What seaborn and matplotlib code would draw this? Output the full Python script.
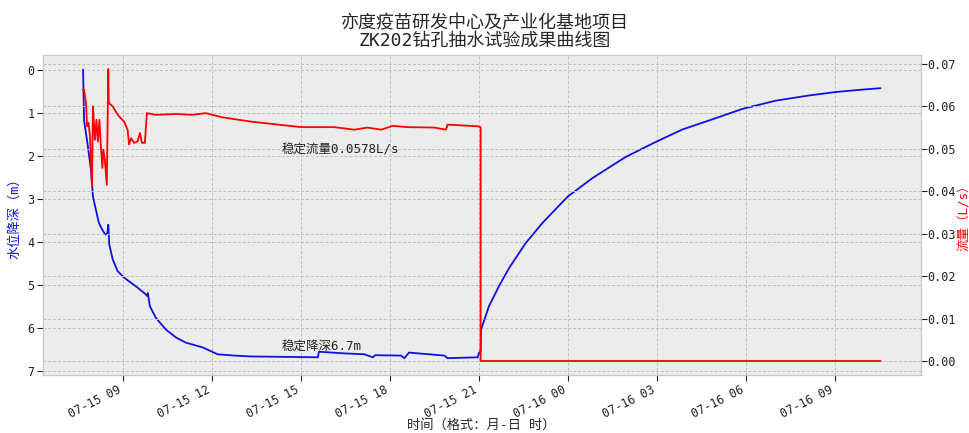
import numpy as np
import pandas as pd
import matplotlib
matplotlib.use("Agg")
import matplotlib.pyplot as plt
import matplotlib.dates as mdates
from matplotlib.ticker import MultipleLocator, FormatStrFormatter
import seaborn as sns

# ---------------- data ----------------
title_text = "亦度疫苗研发中心及产业化基地项目\nZK202钻孔抽水试验成果曲线图"
xlabel_text = "时间（格式：月-日 时）"
ylabel_left = "水位降深（m）"
ylabel_right = "流量（L/s）"
note_flow = "稳定流量0.0578L/s"
note_depth = "稳定降深6.7m"
note_time = "07-15 14:21"
note_flow_y = 0.0498
note_depth_y = 6.43

depth_time = [
    "07-15 07:39", "07-15 07:41", "07-15 07:48", "07-15 07:55", "07-15 07:59",
    "07-15 08:05", "07-15 08:11", "07-15 08:18", "07-15 08:24", "07-15 08:28",
    "07-15 08:30", "07-15 08:32", "07-15 08:39", "07-15 08:49", "07-15 09:02",
    "07-15 09:16", "07-15 09:29", "07-15 09:46", "07-15 09:49", "07-15 09:50",
    "07-15 09:54", "07-15 10:06", "07-15 10:26", "07-15 10:47", "07-15 11:07",
    "07-15 11:41", "07-15 12:11", "07-15 12:45", "07-15 13:19", "07-15 14:30",
    "07-15 15:34", "07-15 15:36", "07-15 16:30", "07-15 17:08", "07-15 17:25",
    "07-15 17:30", "07-15 18:22", "07-15 18:29", "07-15 18:38", "07-15 19:50",
    "07-15 19:56", "07-15 20:57", "07-15 21:00", "07-15 21:03", "07-15 21:04",
    "07-15 21:20", "07-15 21:40", "07-15 22:01", "07-15 22:34", "07-15 23:08",
    "07-15 23:59", "07-16 00:49", "07-16 01:56", "07-16 02:57", "07-16 03:51",
    "07-16 04:45", "07-16 05:53", "07-16 07:00", "07-16 08:07", "07-16 09:01",
    "07-16 09:49", "07-16 10:32",
]
depth_m = [
    0.00, 1.18, 1.72, 2.33, 2.95,
    3.26, 3.56, 3.72, 3.83, 3.81,
    3.60, 4.06, 4.41, 4.68, 4.83,
    4.95, 5.06, 5.22, 5.26, 5.19,
    5.49, 5.76, 6.03, 6.22, 6.34,
    6.45, 6.61, 6.64, 6.66, 6.67,
    6.68, 6.55, 6.59, 6.61, 6.68,
    6.63, 6.64, 6.70, 6.57, 6.64,
    6.70, 6.68, 6.57, 6.55, 6.03,
    5.49, 5.03, 4.60, 4.03, 3.56,
    2.95, 2.52, 2.03, 1.68, 1.39,
    1.18, 0.91, 0.72, 0.60, 0.52,
    0.47, 0.43,
]

flow_time = [
    "07-15 07:38", "07-15 07:41", "07-15 07:45", "07-15 07:47", "07-15 07:50",
    "07-15 07:53", "07-15 07:57", "07-15 07:59", "07-15 08:03", "07-15 08:06",
    "07-15 08:09", "07-15 08:12", "07-15 08:15", "07-15 08:18", "07-15 08:20",
    "07-15 08:23", "07-15 08:27", "07-15 08:30", "07-15 08:31", "07-15 08:39",
    "07-15 08:45", "07-15 08:52", "07-15 09:02", "07-15 09:09", "07-15 09:12",
    "07-15 09:16", "07-15 09:22", "07-15 09:29", "07-15 09:34", "07-15 09:38",
    "07-15 09:44", "07-15 09:48", "07-15 10:06", "07-15 10:47", "07-15 11:20",
    "07-15 11:47", "07-15 12:21", "07-15 13:19", "07-15 14:13", "07-15 15:00",
    "07-15 16:07", "07-15 16:47", "07-15 17:14", "07-15 17:42", "07-15 18:05",
    "07-15 18:35", "07-15 19:29", "07-15 19:53", "07-15 19:56", "07-15 20:57",
    "07-15 21:03", "07-15 21:03", "07-16 10:32",
]
flow_ls = [
    0.0639, 0.0639, 0.0608, 0.0553, 0.0561,
    0.0529, 0.0411, 0.0600, 0.0521, 0.0568,
    0.0517, 0.0568, 0.0506, 0.0455, 0.0498,
    0.0474, 0.0415, 0.0688, 0.0608, 0.0600,
    0.0588, 0.0576, 0.0564, 0.0545, 0.0510,
    0.0525, 0.0514, 0.0517, 0.0537, 0.0514,
    0.0514, 0.0584, 0.0580, 0.0582, 0.0580,
    0.0584, 0.0574, 0.0564, 0.0557, 0.0551,
    0.0551, 0.0545, 0.0550, 0.0545, 0.0554,
    0.0551, 0.0550, 0.0545, 0.0557, 0.0553,
    0.0551, 0.0000, 0.0000,
]


def to_dt(lst):
    return pd.to_datetime(["2021-" + s for s in lst], format="%Y-%m-%d %H:%M")


df_depth = pd.DataFrame({"time": to_dt(depth_time), "depth": depth_m})
df_flow = pd.DataFrame({"time": to_dt(flow_time), "flow": flow_ls})

# ---------------- style ----------------
sns.set_style("darkgrid", rc={
    "axes.facecolor": "#ECECEC",
    "axes.edgecolor": "#C8C8C8",
    "grid.color": "#BDBDBD",
    "grid.linestyle": (0, (3, 2)),
    "grid.linewidth": 0.7,
    "xtick.bottom": True,
    "ytick.left": True,
    "xtick.color": "#222222",
    "ytick.color": "#222222",
})
plt.rcParams["font.family"] = ["DejaVu Sans Mono", "Noto Sans CJK SC"]
plt.rcParams["axes.unicode_minus"] = False

fig = plt.figure(figsize=(9.7, 4.33), dpi=100)
ax = fig.add_axes([0.044, 0.134, 0.905, 0.739])
ax2 = ax.twinx()

sns.lineplot(data=df_depth, x="time", y="depth", ax=ax, color="#1010E0",
             linewidth=1.3, estimator=None, sort=False)
sns.lineplot(data=df_flow, x="time", y="flow", ax=ax2, color="#FF0000",
             linewidth=1.3, estimator=None, sort=False)

ax.set_ylim(7.09, -0.34)
ax2.set_ylim(-0.0033, 0.0721)
ax.yaxis.set_major_locator(MultipleLocator(1))
ax2.yaxis.set_major_locator(MultipleLocator(0.01))
ax2.yaxis.set_major_formatter(FormatStrFormatter("%.2f"))

ax.xaxis.set_major_locator(mdates.HourLocator(byhour=[0, 3, 6, 9, 12, 15, 18, 21]))
ax.xaxis.set_major_formatter(mdates.DateFormatter("%m-%d %H"))

for a in (ax, ax2):
    a.tick_params(axis="both", which="major", length=4, width=0.8,
                  labelsize=8.5, direction="out", pad=2)
    a.grid(True, color="#BDBDBD", linestyle=(0, (3, 2)), linewidth=0.7)
    for sp in a.spines.values():
        sp.set_color("#C8C8C8")
ax2.tick_params(axis="y", right=True, pad=1)
ax2.grid(False, axis="x")

for lab in ax.get_xticklabels():
    lab.set_rotation(27)
    lab.set_ha("right")
    lab.set_rotation_mode("default")

ax.set_xlabel(xlabel_text, fontsize=9.5)
ax.xaxis.set_label_coords(0.5, -0.137)
ax.set_ylabel(ylabel_left, fontsize=9.5, color="#1010E0")
ax.yaxis.set_label_coords(-0.0245, 0.5)
ax2.set_ylabel(ylabel_right, fontsize=9, color="#FF0000")
ax2.yaxis.set_label_coords(1.043, 0.5)

nt = pd.to_datetime("2021-" + note_time, format="%Y-%m-%d %H:%M")
ax2.text(nt, note_flow_y, note_flow, fontsize=9, ha="left", va="center", color="#222222")
ax.text(nt, note_depth_y, note_depth, fontsize=9, ha="left", va="center", color="#222222")

fig.suptitle(title_text, fontsize=13, y=0.968, linespacing=1.0)

fig.savefig("out.png", dpi=100)
